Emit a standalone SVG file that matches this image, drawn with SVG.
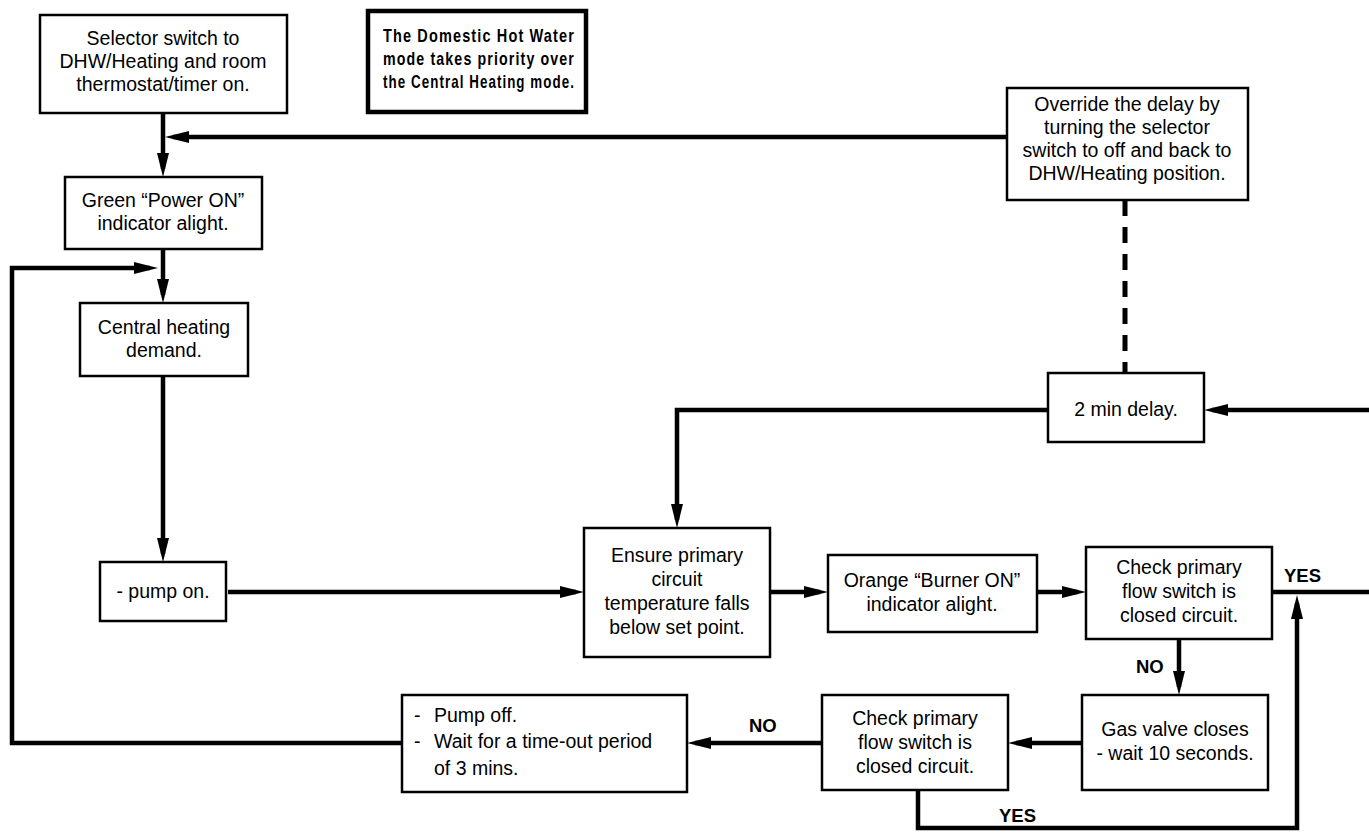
<svg xmlns="http://www.w3.org/2000/svg" width="1369" height="836" viewBox="0 0 1369 836">
<style>
.box{fill:#fff;stroke:#000;stroke-width:2.5}
.t{font-family:"Liberation Sans",Arial,Helvetica,sans-serif;font-size:19.5px;fill:#000;text-anchor:middle}
.tl{font-family:"Liberation Sans",Arial,Helvetica,sans-serif;font-size:19.5px;fill:#000}
.lab{font-family:"Liberation Sans",Arial,Helvetica,sans-serif;font-size:18.5px;font-weight:bold;fill:#000}
.title{font-family:"Liberation Sans",Arial,Helvetica,sans-serif;font-size:19px;font-weight:bold;letter-spacing:1.5px;fill:#000}
.c{fill:none;stroke:#000;stroke-width:4.5}
.ca{fill:none;stroke:#000;stroke-width:4.5;marker-end:url(#ah)}
.d{fill:none;stroke:#000;stroke-width:5;stroke-dasharray:16 11}
</style>
<defs>
<marker id="ah" viewBox="0 0 24 12" markerWidth="24" markerHeight="12" refX="16" refY="6" orient="auto" markerUnits="userSpaceOnUse">
<path d="M0,0 L24,6 L0,12 Z" fill="#000"/>
</marker>
</defs>
<rect width="1369" height="836" fill="#fff"/>

<g id="connectors">
<path class="ca" d="M163,113 V169"/>
<path class="ca" d="M1007,137 H173"/>
<path class="ca" d="M163,249 V295"/>
<path class="ca" d="M402,743 H12 V268 H150"/>
<path class="ca" d="M163,376 V554"/>
<path class="ca" d="M228,592 H576"/>
<path class="ca" d="M1048,410 H677 V520"/>
<path class="ca" d="M1369,410 H1212"/>
<path class="d" d="M1125,200 V373"/>
<path class="ca" d="M770,592 H820"/>
<path class="ca" d="M1037,592 H1078"/>
<path class="c" d="M1272,592 H1369"/>
<path class="ca" d="M1179,639 V687"/>
<path class="ca" d="M1082,743 H1016"/>
<path class="ca" d="M822,743 H695"/>
<path class="ca" d="M918,790 V828 H1297 V603"/>
<text class="lab" x="1284" y="582">YES</text>
<text class="lab" x="1136" y="673">NO</text>
<text class="lab" x="749" y="732">NO</text>
<text class="lab" x="999" y="822">YES</text>
</g>

<g id="n-selector">
<rect class="box" x="40" y="15" width="247" height="98"/>
<text class="t" x="163" y="45">Selector switch to</text>
<text class="t" x="163" y="68">DHW/Heating and room</text>
<text class="t" x="163" y="91">thermostat/timer on.</text>
</g>

<g id="n-title">
<rect x="368" y="11" width="218" height="101" fill="#fff" stroke="#000" stroke-width="4.5"/>
<text class="title" x="383" y="42" textLength="192" lengthAdjust="spacingAndGlyphs">The Domestic Hot Water</text>
<text class="title" x="383" y="65" textLength="192" lengthAdjust="spacingAndGlyphs">mode takes priority over</text>
<text class="title" x="383" y="88" textLength="192" lengthAdjust="spacingAndGlyphs">the Central Heating mode.</text>
</g>

<g id="n-override">
<rect class="box" x="1007" y="88" width="241" height="112"/>
<text class="t" x="1127" y="111">Override the delay by</text>
<text class="t" x="1127" y="134">turning the selector</text>
<text class="t" x="1127" y="157">switch to off and back to</text>
<text class="t" x="1127" y="180">DHW/Heating position.</text>
</g>

<g id="n-power">
<rect class="box" x="65" y="177" width="197" height="72"/>
<text class="t" x="163" y="207">Green “Power ON”</text>
<text class="t" x="163" y="230">indicator alight.</text>
</g>

<g id="n-chdemand">
<rect class="box" x="80" y="303" width="168" height="73"/>
<text class="t" x="164" y="334">Central heating</text>
<text class="t" x="164" y="357">demand.</text>
</g>

<g id="n-pumpon">
<rect class="box" x="100" y="562" width="126" height="59"/>
<text class="t" x="163" y="598">- pump on.</text>
</g>

<g id="n-delay">
<rect class="box" x="1048" y="373" width="156" height="69"/>
<text class="t" x="1126" y="416">2 min delay.</text>
</g>

<g id="n-ensure">
<rect class="box" x="584" y="528" width="186" height="129"/>
<text class="t" x="677" y="562">Ensure primary</text>
<text class="t" x="677" y="586">circuit</text>
<text class="t" x="677" y="610">temperature falls</text>
<text class="t" x="677" y="634">below set point.</text>
</g>

<g id="n-burner">
<rect class="box" x="828" y="555" width="209" height="77"/>
<text class="t" x="932" y="587">Orange “Burner ON”</text>
<text class="t" x="932" y="611">indicator alight.</text>
</g>

<g id="n-check1">
<rect class="box" x="1086" y="547" width="186" height="92"/>
<text class="t" x="1179" y="574">Check primary</text>
<text class="t" x="1179" y="598">flow switch is</text>
<text class="t" x="1179" y="622">closed circuit.</text>
</g>

<g id="n-gasvalve">
<rect class="box" x="1082" y="695" width="186" height="95"/>
<text class="t" x="1175" y="736">Gas valve closes</text>
<text class="t" x="1175" y="760">- wait 10 seconds.</text>
</g>

<g id="n-check2">
<rect class="box" x="822" y="695" width="186" height="95"/>
<text class="t" x="915" y="725">Check primary</text>
<text class="t" x="915" y="749">flow switch is</text>
<text class="t" x="915" y="773">closed circuit.</text>
</g>

<g id="n-pumpoff">
<rect class="box" x="402" y="695" width="285" height="97"/>
<text class="tl" x="414" y="722">-</text>
<text class="tl" x="434" y="722">Pump off.</text>
<text class="tl" x="414" y="748">-</text>
<text class="tl" x="434" y="748">Wait for a time-out period</text>
<text class="tl" x="434" y="775">of 3 mins.</text>
</g>
</svg>
